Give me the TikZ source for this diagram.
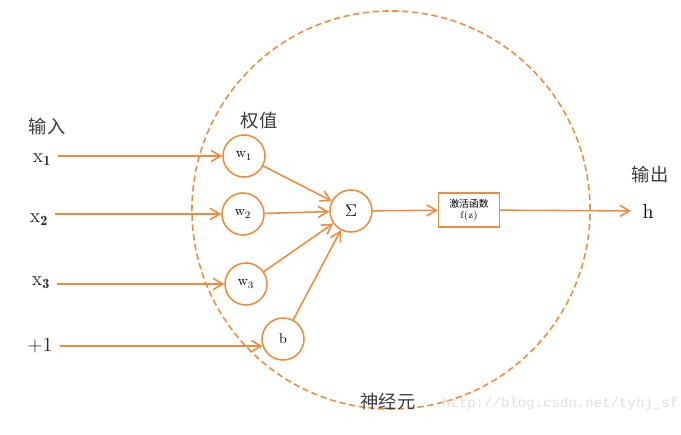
\documentclass[tikz,border=0pt]{standalone}
\usepackage{fontspec}
\newfontfamily\cjk{Noto Sans CJK SC}
\newfontfamily\marktt{Liberation Mono}
\usetikzlibrary{arrows.meta}
\definecolor{neuronOrange}{RGB}{240,138,60}
\definecolor{labelGrey}{RGB}{60,60,60}
\definecolor{markGrey}{RGB}{222,222,222}

\begin{document}
\begin{tikzpicture}[
  x=0.025cm, y=-0.025cm,
  font=\large,
  unit/.style={circle, draw=neuronOrange, line width=1.1pt, minimum size=1.05cm, inner sep=0pt, font=\normalsize},
  actbox/.style={draw=neuronOrange, line width=1.1pt, minimum width=1.52cm, minimum height=0.85cm, inner sep=1pt, align=center, font=\fontsize{7}{8}\selectfont},
  inlab/.style={inner xsep=5pt, text=black!85, font=\Large},
  cjklab/.style={font=\cjk\fontsize{13}{15}\selectfont, text=labelGrey},
  link/.style={-{Straight Barb[length=2.4mm, width=2.8mm]}, neuronOrange, line width=1.1pt}
]
\useasboundingbox (0,0) rectangle (681,434);

% Neuron boundary
\node[circle, draw=neuronOrange, line width=1.1pt, dash pattern=on 4.5pt off 2.5pt, minimum size=9.95cm] (neuron) at (391,210) {};

% Labels
\node[cjklab] (inlabel) at (47,127) {输入};
\node[cjklab] (wlabel) at (259,121) {权值};
\node[cjklab] (outlabel) at (650,175) {输出};
\node[cjklab] (nlabel) at (388,402) {神经元};

% Inputs
\node[inlab] (x1) at (42,160) {$\mathrm{x}_{\mathbf{1}}$};
\node[inlab] (x2) at (39,220) {$\mathrm{x}_{\mathbf{2}}$};
\node[inlab] (x3) at (41,283) {$\mathrm{x}_{\mathbf{3}}$};
\node[inlab] (p1) at (40,346) {$+1$};

% Weights and bias
\node[unit] (w1) at (244,156) {$\mathrm{w}_1$};
\node[unit] (w2) at (243,214) {$\mathrm{w}_2$};
\node[unit] (w3) at (246,284) {$\mathrm{w}_3$};
\node[unit] (b) at (283,339) {b};

% Sum, activation, output
\node[unit, font=\large] (sum) at (351,211) {$\Sigma$};
\node[actbox] (act) at (469,210) {{\cjk 激活函数}\\f(z)};
\node[inner xsep=8pt, font=\Large] (h) at (648,211) {h};

% Edges
\draw[link] (x1.east |- w1) -- (w1);
\draw[link] (x2.east |- w2) -- (w2);
\draw[link] (x3.east |- w3) -- (w3);
\draw[link] (p1.east |- b.199) -- (b.199);
\draw[link] (w1) -- (sum);
\draw[link] (w2) -- (sum);
\draw[link] (w3) -- (sum);
\draw[link] (b) -- (sum);
\draw[link] (sum) -- (act);
\draw[link] (act) -- (h);

% Watermark
\node[text=markGrey, font=\marktt\fontsize{10}{12}\selectfont, anchor=west] (mark) at (437,404) {http://blog.csdn.net/tyhj\_sf};
\end{tikzpicture}
\end{document}
